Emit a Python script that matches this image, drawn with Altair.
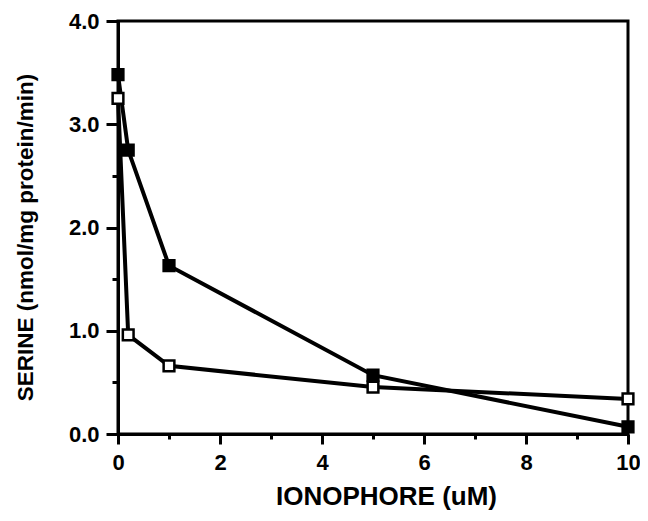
import altair as alt
import pandas as pd

ionophore = [0, 0.2, 1, 5, 10]
serine_filled = [3.48, 2.75, 1.63, 0.57, 0.07]
serine_open = [3.25, 0.96, 0.66, 0.455, 0.34]
x_ticks = list(range(0, 11))
y_ticks = [0.0, 0.5, 1.0, 1.5, 2.0, 2.5, 3.0, 3.5, 4.0]

df = pd.DataFrame({
    "x": ionophore + ionophore,
    "y": serine_filled + serine_open,
    "series": ["filled"] * len(ionophore) + ["open"] * len(ionophore),
})

FONT = "Liberation Sans"

x_enc = alt.X(
    "x:Q",
    scale=alt.Scale(domain=[0, 10], nice=False, zero=False),
    axis=alt.Axis(
        title="IONOPHORE (uM)",
        values=x_ticks,
        format="d",
        labelExpr="datum.value % 2 == 0 ? datum.label : ''",
        tickSize={"condition": {"test": "datum.value % 2 != 0", "value": 5}, "value": 10},
        tickWidth=3, tickColor="black",
        domainWidth=3, domainColor="black",
        labelFont=FONT, labelFontWeight="bold", labelFontSize=22, labelColor="black",
        labelPadding=8, labelFlush=False, labelOverlap=False,
        titleFont=FONT, titleFontWeight="bold", titleFontSize=26, titleColor="black",
        titleX=268, titleY=70, titleBaseline="alphabetic", titleAlign="center",
        grid=False,
    ),
)
y_enc = alt.Y(
    "y:Q",
    scale=alt.Scale(domain=[0, 4], nice=False, zero=True),
    axis=alt.Axis(
        title="SERINE (nmol/mg protein/min)",
        values=y_ticks,
        format=".1f",
        labelExpr="datum.value % 1 == 0 ? datum.label : ''",
        tickSize={"condition": {"test": "datum.value % 1 != 0", "value": 6}, "value": 12},
        tickWidth=3, tickColor="black",
        domainWidth=3, domainColor="black",
        labelFont=FONT, labelFontWeight="bold", labelFontSize=22, labelColor="black",
        labelPadding=7, labelFlush=False, labelOverlap=False,
        titleFont=FONT, titleFontWeight="bold", titleFontSize=22.5, titleColor="black",
        titleX=-86, titleY=216, titleAngle=270, titleBaseline="alphabetic", titleAlign="center",
        grid=False,
    ),
)

base = alt.Chart(df)
lines = base.mark_line(color="black", strokeWidth=4).encode(
    x=x_enc, y=y_enc, detail="series:N"
)
points = base.mark_point(shape="square", size=115, strokeWidth=2.5, stroke="black", opacity=1, filled=False).encode(
    x="x:Q", y="y:Q",
    fill=alt.Fill("series:N", scale=alt.Scale(domain=["filled", "open"], range=["black", "white"]), legend=None),
)

chart = alt.layer(lines, points).properties(
    width=510, height=413,
    padding={"left": 110, "top": 13, "right": 12, "bottom": 79},
    autosize="none",
    background="white",
).configure_view(stroke="black", strokeWidth=3)

chart.save("out.html", embed_options={"renderer": "svg", "actions": False})
